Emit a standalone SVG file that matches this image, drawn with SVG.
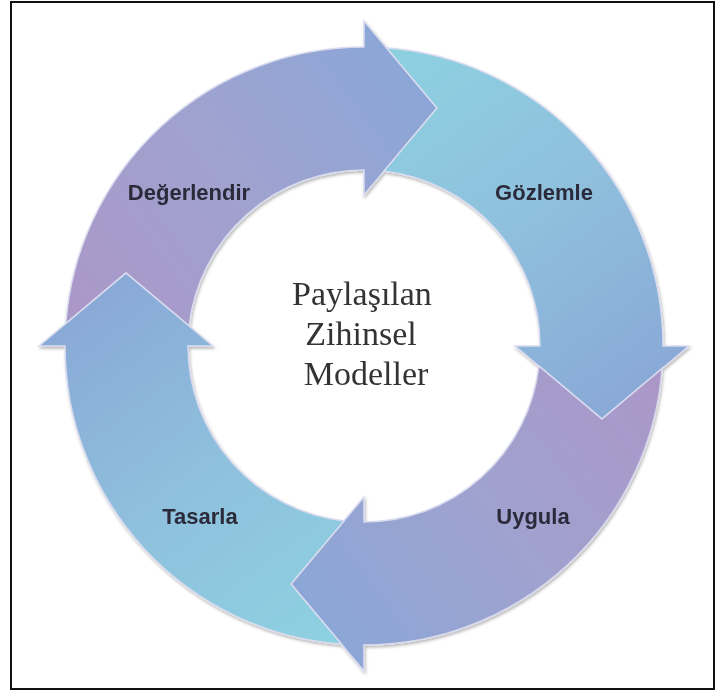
<svg xmlns="http://www.w3.org/2000/svg" xmlns:xlink="http://www.w3.org/1999/xlink" width="715" height="693" viewBox="0 0 715 693">
  <style>
    .frame { fill: none; stroke: #111; stroke-width: 2; }
    .arrow { stroke: #d9dbef; stroke-width: 1.5; stroke-linejoin: miter; }
    .lbl { font-family: "Liberation Sans", Arial, sans-serif; font-weight: bold; font-size: 22px; fill: #2a2a3a; text-anchor: middle; }
    .core { font-family: "Liberation Serif", "Times New Roman", serif; font-size: 34px; fill: #333; text-anchor: middle; }
  </style>
  <defs>
    <!-- One curved block arrow (left quadrant to top), centre (364,346), ring radii 176..299.
         The tail is notched to fit the head of the preceding arrow. -->
    <path id="cycleArrow" d="M65.85,323.47 A299,299 0 0 1 364,47 L364,21 L437,108 L364,195 L364,170 A176,176 0 0 0 189.14,325.98 L126,273 Z"/>
    <!-- purple arrows: purple at the tail, blue at the head -->
    <linearGradient id="gPurple" gradientUnits="userSpaceOnUse" x1="80" y1="330" x2="420" y2="80">
      <stop offset="0" stop-color="#ab97c8"/>
      <stop offset="0.5" stop-color="#a0a2cf"/>
      <stop offset="1" stop-color="#8ba7d7"/>
    </linearGradient>
    <!-- cyan arrows: cyan at the tail, blue at the head -->
    <linearGradient id="gCyan" gradientUnits="userSpaceOnUse" x1="80" y1="330" x2="420" y2="80">
      <stop offset="0" stop-color="#8dd1e1"/>
      <stop offset="0.5" stop-color="#8fc0dd"/>
      <stop offset="1" stop-color="#89a9d6"/>
    </linearGradient>
    <filter id="shade" x="-10%" y="-10%" width="120%" height="120%">
      <feDropShadow dx="1" dy="2" stdDeviation="1.5" flood-color="#000" flood-opacity="0.28"/>
    </filter>
  </defs>

  <rect width="715" height="693" fill="#fff"/>
  <rect class="frame" x="11" y="2" width="703" height="687"/>

  <!-- cycle arrows -->
  <g id="connectors" filter="url(#shade)">
    <use id="arrow-degerlendir" xlink:href="#cycleArrow" class="arrow" fill="url(#gPurple)"/>
    <use id="arrow-gozlemle" xlink:href="#cycleArrow" class="arrow" fill="url(#gCyan)" transform="rotate(90 364 346)"/>
    <use id="arrow-uygula" xlink:href="#cycleArrow" class="arrow" fill="url(#gPurple)" transform="rotate(180 364 346)"/>
    <use id="arrow-tasarla" xlink:href="#cycleArrow" class="arrow" fill="url(#gCyan)" transform="rotate(270 364 346)"/>
  </g>

  <g id="node-degerlendir"><text class="lbl" x="189" y="200">Değerlendir</text></g>
  <g id="node-gozlemle"><text class="lbl" x="544" y="200">Gözlemle</text></g>
  <g id="node-uygula"><text class="lbl" x="533" y="524">Uygula</text></g>
  <g id="node-tasarla"><text class="lbl" x="200" y="524">Tasarla</text></g>

  <g id="node-center">
    <text class="core" x="362" y="305">Paylaşılan</text>
    <text class="core" x="361" y="345">Zihinsel</text>
    <text class="core" x="366" y="385">Modeller</text>
  </g>
</svg>
